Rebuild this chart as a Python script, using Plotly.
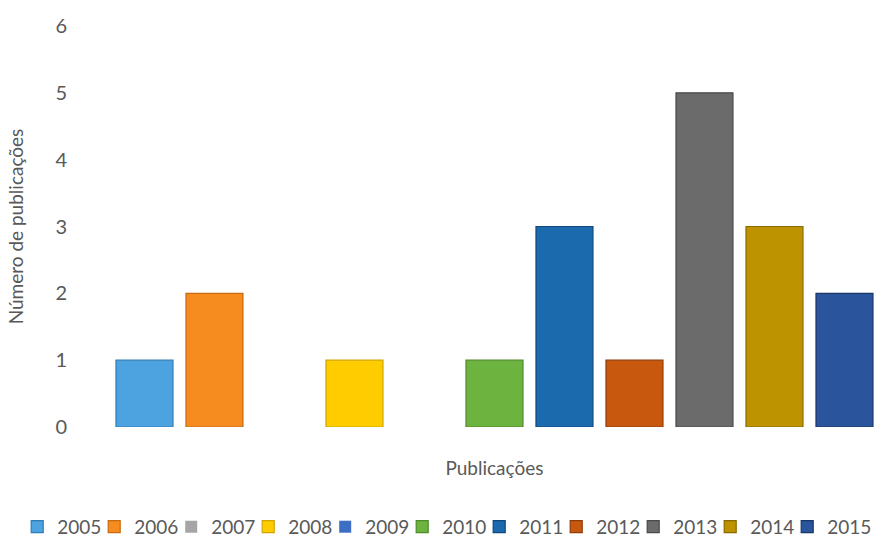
import plotly.graph_objects as go

years = ["2005", "2006", "2007", "2008", "2009", "2010", "2011", "2012", "2013", "2014", "2015"]
counts = [1, 2, 0, 1, 0, 1, 3, 1, 5, 3, 2]
colors = ["#4DA3DF", "#F68B1F", "#A5A5A5", "#FFCC00", "#3C6FC4", "#6DB33F",
          "#1B6AAE", "#C9580F", "#6B6B6B", "#BE9300", "#2A549C"]
edge = ["#2F7CB5", "#C76A10", "#808080", "#D0A500", "#28509A", "#4E8A2A",
        "#10487A", "#8E3D08", "#4A4A4A", "#8A6A00", "#1A3668"]
category = "Publicações"

fig = go.Figure()
n = len(years)
for i, (y, c, col, ec) in enumerate(zip(years, counts, colors, edge)):
    fig.add_trace(go.Bar(x=[category], y=[c], name=y,
                         legendwidth=48 if i == n - 1 else None,
                         marker=dict(color=col,
                                     line=dict(color=ec, width=1.2 if c else 0))))

font = "Lato, 'Open Sans', sans-serif"
fig.update_layout(
    width=882, height=542,
    margin=dict(l=82, r=0, t=26, b=115, autoexpand=False),
    paper_bgcolor="white", plot_bgcolor="white",
    barmode="group", bargap=0.0375, bargroupgap=0.186,
    font=dict(family=font, size=19, color="#595959"),
    showlegend=True,
    legend=dict(orientation="h", xref="paper", yref="paper",
                x=-0.081, xanchor="left", y=-0.249, yanchor="middle",
                entrywidth=32, font=dict(size=19, color="#595959"),
                itemwidth=30),
)
fig.update_xaxes(range=[-0.5156, 0.4844], showline=False, showgrid=False,
                 ticks="", ticklabelstandoff=28, tickfont=dict(size=19),
                 automargin=False)
fig.update_yaxes(range=[0, 6], dtick=1, showgrid=False, showline=False,
                 zeroline=False, ticks="", ticklabelstandoff=14,
                 tickfont=dict(size=20), automargin=False,
                 title=dict(text="Número de publicações", font=dict(size=19), standoff=26))

fig.write_html("out.html", config={"displayModeBar": False},
               post_script="document.body.style.margin='0';document.body.style.overflow='hidden';")
